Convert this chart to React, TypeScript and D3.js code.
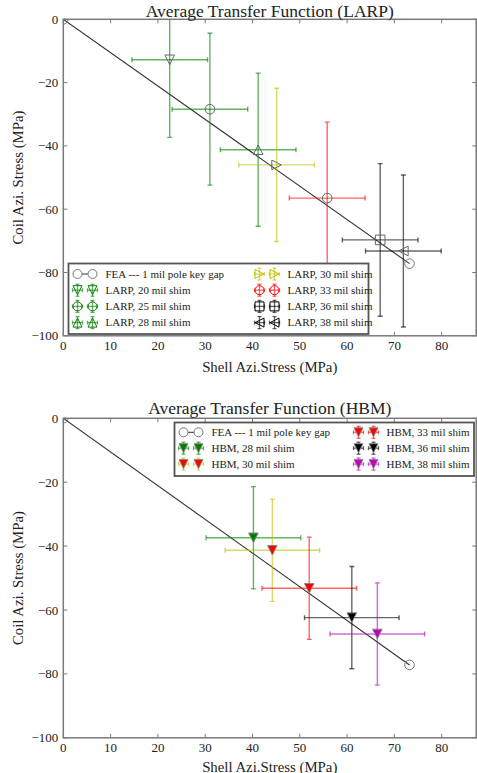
import React, { useRef, useEffect } from "react";
import * as d3 from "d3";

// axis ticks
const xTicks = [0, 10, 20, 30, 40, 50, 60, 70, 80];
const yTicks = [0, -20, -40, -60, -80, -100];

// FEA reference line (same in both panels)
const feaLabel = "FEA --- 1 mil pole key gap";
const feaX = [0, 73.2];
const feaY = [0, -77.2];

// LARP measurements
const larpLabels = [
  "LARP, 20 mil shim",
  "LARP, 25 mil shim",
  "LARP, 28 mil shim",
  "LARP, 30 mil shim",
  "LARP, 33 mil shim",
  "LARP, 36 mil shim",
  "LARP, 38 mil shim",
];
const larpX = [22.5, 31.0, 41.2, 45.1, 55.8, 67.0, 71.9];
const larpY = [-12.8, -28.4, -41.2, -46.0, -56.5, -69.7, -73.2];
const larpXErr = [8, 8, 8, 8, 8, 8, 8];
const larpYErr = [24.5, 24, 24.2, 24.2, 24, 24.1, 24];
const larpColors = ["g", "g", "g", "y", "r", "k", "k"];
const larpMarkers = ["tri-down", "circle", "tri-up", "tri-right", "circle", "square", "tri-left"];

// HBM measurements
const hbmLabels = [
  "HBM, 28 mil shim",
  "HBM, 30 mil shim",
  "HBM, 33 mil shim",
  "HBM, 36 mil shim",
  "HBM, 38 mil shim",
];
const hbmX = [40.2, 44.2, 52.0, 61.0, 66.4];
const hbmY = [-37.4, -41.3, -53.2, -62.4, -67.5];
const hbmXErr = [10, 10, 10, 10, 10];
const hbmYErr = [16, 16, 16, 16, 16];
const hbmErrColors = ["g", "y", "r", "k", "m"];
const hbmFillColors = ["g", "r", "r", "k", "m"];

const colorOf: Record<string, string> = {
  g: "#008000",
  y: "#bfbf00",
  r: "#ff0000",
  k: "#000000",
  m: "#bf00bf",
};

const FONT = "'Liberation Serif', 'Times New Roman', serif";
const FRAME = "#7a7a7a";

function markerPath(kind: string, r: number) {
  switch (kind) {
    case "circle":
      return `M${r},0A${r},${r} 0 1,1 ${-r},0A${r},${r} 0 1,1 ${r},0Z`;
    case "square":
      return `M${-r},${-r}H${r}V${r}H${-r}Z`;
    case "tri-down":
      return `M${-r},${-r}L${r},${-r}L0,${r}Z`;
    case "tri-up":
      return `M${-r},${r}L${r},${r}L0,${-r}Z`;
    case "tri-right":
      return `M${-r},${-r}L${r},0L${-r},${r}Z`;
    case "tri-left":
      return `M${r},${-r}L${-r},0L${r},${r}Z`;
  }
  return "";
}

type Series = {
  label: string;
  x: number;
  y: number;
  xe: number;
  ye: number;
  errColor: string;
  marker: string;
  fill: string;
  stroke: string;
  legendStroke: string;
};

const larpSeries: Series[] = larpLabels.map((label, i) => ({
  label,
  x: larpX[i],
  y: larpY[i],
  xe: larpXErr[i],
  ye: larpYErr[i],
  errColor: colorOf[larpColors[i]],
  marker: larpMarkers[i],
  fill: "none",
  stroke: "#666",
  legendStroke: colorOf[larpColors[i]],
}));

const hbmSeries: Series[] = hbmLabels.map((label, i) => ({
  label,
  x: hbmX[i],
  y: hbmY[i],
  xe: hbmXErr[i],
  ye: hbmYErr[i],
  errColor: colorOf[hbmErrColors[i]],
  marker: "tri-down",
  fill: colorOf[hbmFillColors[i]],
  stroke: "#888",
  legendStroke: "#888",
}));

type Panel = {
  id: string;
  title: string;
  titleY: number;
  top: number;
  bottom: number;
  xLabelY: number;
  series: Series[];
  legend: { x: number; y: number; w: number; h: number; rowY0: number; rowStep: number; rows: number; col2: number };
};

const LEFT = 63.3;
const RIGHT = 476.2;

function drawPanel(svg: d3.Selection<SVGSVGElement, unknown, null, undefined>, p: Panel) {
  const x = d3.scaleLinear().domain([0, 87.3]).range([LEFT, RIGHT]);
  const y = d3.scaleLinear().domain([-100, 0]).range([p.bottom, p.top]);
  const g = svg.append("g");

  g.append("clipPath")
    .attr("id", p.id)
    .append("rect")
    .attr("x", LEFT)
    .attr("y", p.top)
    .attr("width", RIGHT - LEFT)
    .attr("height", p.bottom - p.top);

  const plot = g.append("g").attr("clip-path", `url(#${p.id})`);

  // FEA line
  const line = d3.line<number>().x((d) => x(d)).y((_, i) => y(feaY[i]));
  plot.append("path")
    .attr("d", line(feaX))
    .attr("fill", "none")
    .attr("stroke", "#333")
    .attr("stroke-width", 1.1);

  // error bars
  const cap = 2.5;
  p.series.forEach((s) => {
    const eg = plot.append("g").attr("stroke", s.errColor).attr("stroke-opacity", 0.6).attr("stroke-width", 1.4);
    const cx = x(s.x), cy = y(s.y);
    const x0 = x(s.x - s.xe), x1 = x(s.x + s.xe);
    const y0 = y(s.y - s.ye), y1 = y(s.y + s.ye);
    eg.append("line").attr("x1", x0).attr("x2", x1).attr("y1", cy).attr("y2", cy);
    eg.append("line").attr("x1", cx).attr("x2", cx).attr("y1", y0).attr("y2", y1);
    [x0, x1].forEach((xx) => eg.append("line").attr("x1", xx).attr("x2", xx).attr("y1", cy - cap).attr("y2", cy + cap));
    [y0, y1].forEach((yy) => eg.append("line").attr("x1", cx - cap).attr("x2", cx + cap).attr("y1", yy).attr("y2", yy));
  });

  // markers
  p.series.forEach((s) => {
    plot.append("path")
      .attr("d", markerPath(s.marker, 4.8))
      .attr("transform", `translate(${x(s.x)},${y(s.y)})`)
      .attr("fill", s.fill)
      .attr("stroke", s.stroke)
      .attr("stroke-width", 1);
  });
  feaX.forEach((fx, i) => {
    plot.append("path")
      .attr("d", markerPath("circle", 4.8))
      .attr("transform", `translate(${x(fx)},${y(feaY[i])})`)
      .attr("fill", "none")
      .attr("stroke", "#777")
      .attr("stroke-width", 1);
  });

  // frame
  g.append("rect")
    .attr("x", LEFT)
    .attr("y", p.top)
    .attr("width", RIGHT - LEFT)
    .attr("height", p.bottom - p.top)
    .attr("fill", "none")
    .attr("stroke", FRAME)
    .attr("stroke-width", 1.5);

  // ticks (inward, all sides)
  const tk = 4;
  xTicks.forEach((t) => {
    const xx = x(t);
    g.append("line").attr("x1", xx).attr("x2", xx).attr("y1", p.bottom).attr("y2", p.bottom - tk).attr("stroke", FRAME);
    g.append("line").attr("x1", xx).attr("x2", xx).attr("y1", p.top).attr("y2", p.top + tk).attr("stroke", FRAME);
    g.append("text")
      .attr("x", xx)
      .attr("y", p.bottom + 14.5)
      .attr("text-anchor", "middle")
      .attr("font-family", FONT)
      .attr("font-size", 13)
      .attr("fill", "#222")
      .text(String(t));
  });
  yTicks.forEach((t) => {
    const yy = y(t);
    g.append("line").attr("x1", LEFT).attr("x2", LEFT + tk).attr("y1", yy).attr("y2", yy).attr("stroke", FRAME);
    g.append("line").attr("x1", RIGHT).attr("x2", RIGHT - tk).attr("y1", yy).attr("y2", yy).attr("stroke", FRAME);
    g.append("text")
      .attr("x", LEFT - 5)
      .attr("y", yy + 4.5)
      .attr("text-anchor", "end")
      .attr("font-family", FONT)
      .attr("font-size", 13)
      .attr("fill", "#222")
      .text(t < 0 ? "\u2212" + Math.abs(t) : String(t));
  });

  // title and axis labels
  g.append("text")
    .attr("x", (LEFT + RIGHT) / 2)
    .attr("y", p.titleY)
    .attr("text-anchor", "middle")
    .attr("font-family", FONT)
    .attr("font-size", 17.5)
    .attr("fill", "#222")
    .text(p.title);
  g.append("text")
    .attr("x", (LEFT + RIGHT) / 2)
    .attr("y", p.xLabelY)
    .attr("text-anchor", "middle")
    .attr("font-family", FONT)
    .attr("font-size", 14.8)
    .attr("fill", "#222")
    .text("Shell Azi.Stress (MPa)");
  const midY = (p.top + p.bottom) / 2;
  g.append("text")
    .attr("transform", `translate(23,${midY}) rotate(-90)`)
    .attr("text-anchor", "middle")
    .attr("font-family", FONT)
    .attr("font-size", 14.8)
    .attr("fill", "#222")
    .text("Coil Azi. Stress (MPa)");

  // legend
  const L = p.legend;
  const lg = g.append("g");
  lg.append("rect")
    .attr("x", L.x)
    .attr("y", L.y)
    .attr("width", L.w)
    .attr("height", L.h)
    .attr("fill", "#fff")
    .attr("stroke", "#555")
    .attr("stroke-width", 1.8);

  const entries: (Series | null)[] = [null, ...p.series];
  entries.forEach((s, i) => {
    const col = Math.floor(i / L.rows);
    const row = i % L.rows;
    const ox = L.x + col * L.col2;
    const ry = L.rowY0 + row * L.rowStep;
    const h1 = ox + 9, h2 = ox + 24, tx = ox + 37;
    if (s === null) {
      lg.append("line").attr("x1", h1).attr("x2", h2).attr("y1", ry).attr("y2", ry).attr("stroke", "#333");
      [h1, h2].forEach((hx) =>
        lg.append("path")
          .attr("d", markerPath("circle", 4.5))
          .attr("transform", `translate(${hx},${ry})`)
          .attr("fill", "#fff")
          .attr("stroke", "#777")
      );
    } else {
      [h1, h2].forEach((hx) => {
        const eg = lg.append("g").attr("stroke", s.errColor).attr("stroke-opacity", 0.6).attr("stroke-width", 1.3);
        eg.append("line").attr("x1", hx - 5).attr("x2", hx + 5).attr("y1", ry).attr("y2", ry);
        eg.append("line").attr("x1", hx).attr("x2", hx).attr("y1", ry - 6).attr("y2", ry + 6);
        eg.append("line").attr("x1", hx - 5).attr("x2", hx - 5).attr("y1", ry - 2).attr("y2", ry + 2);
        eg.append("line").attr("x1", hx + 5).attr("x2", hx + 5).attr("y1", ry - 2).attr("y2", ry + 2);
        eg.append("line").attr("x1", hx - 2).attr("x2", hx + 2).attr("y1", ry - 6).attr("y2", ry - 6);
        eg.append("line").attr("x1", hx - 2).attr("x2", hx + 2).attr("y1", ry + 6).attr("y2", ry + 6);
        lg.append("path")
          .attr("d", markerPath(s.marker, 4.5))
          .attr("transform", `translate(${hx},${ry})`)
          .attr("fill", s.fill)
          .attr("stroke", s.legendStroke)
          .attr("stroke-width", 1);
      });
    }
    lg.append("text")
      .attr("x", tx)
      .attr("y", ry + 3.8)
      .attr("font-family", FONT)
      .attr("font-size", 11)
      .attr("fill", "#222")
      .text(s === null ? feaLabel : s.label);
  });
}

export default function App() {
  const svgRef = useRef<SVGSVGElement>(null);

  useEffect(() => {
    const svg = d3.select(svgRef.current!);
    svg.selectAll("*").remove();
    drawPanel(svg as any, {
      id: "clip-larp",
      title: "Average Transfer Function (LARP)",
      titleY: 16.5,
      top: 19.3,
      bottom: 335.8,
      xLabelY: 371.5,
      series: larpSeries,
      legend: { x: 68.5, y: 263.5, w: 300, h: 70.5, rowY0: 274, rowStep: 16.2, rows: 4, col2: 182 },
    });
    drawPanel(svg as any, {
      id: "clip-hbm",
      title: "Average Transfer Function (HBM)",
      titleY: 413.5,
      top: 418.3,
      bottom: 737.8,
      xLabelY: 771.5,
      series: hbmSeries,
      legend: { x: 174.5, y: 422.5, w: 299.5, h: 53.5, rowY0: 432.3, rowStep: 15.9, rows: 3, col2: 175 },
    });
  }, []);

  return (
    <svg
      ref={svgRef}
      width={477}
      height={773}
      style={{ position: "absolute", left: 0, top: 0, background: "#fff" }}
    />
  );
}
